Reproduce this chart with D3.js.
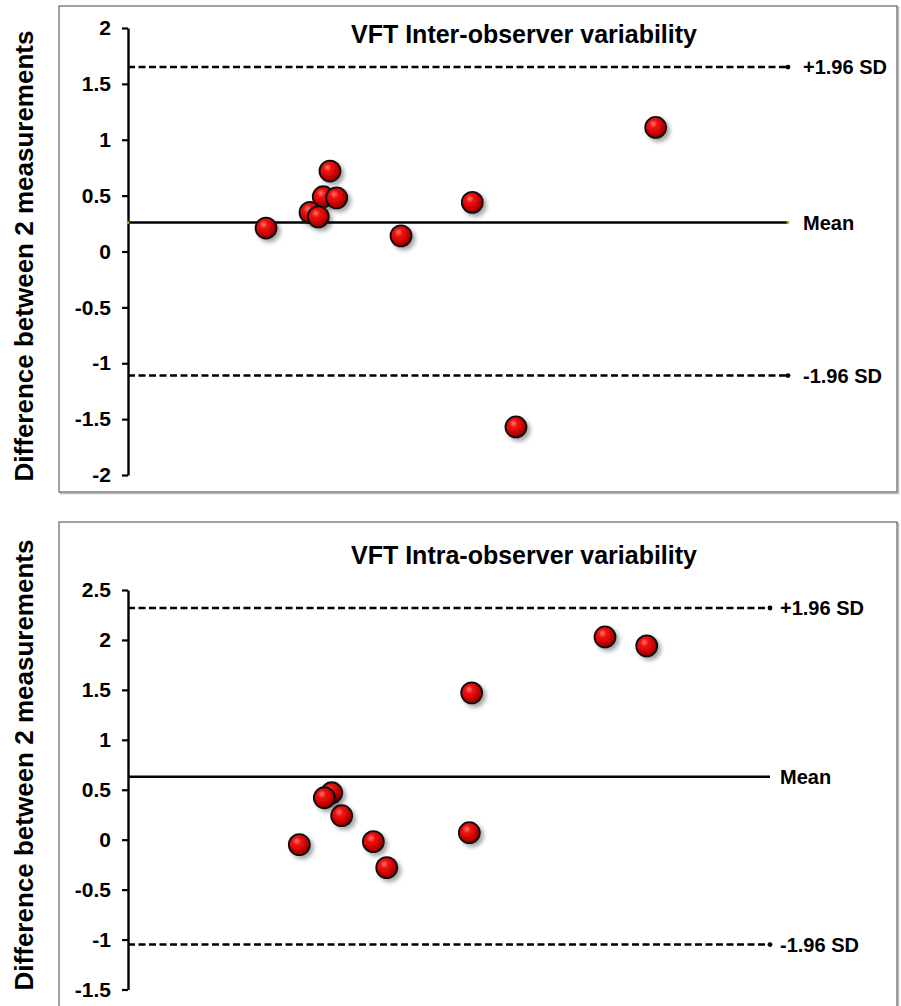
<!DOCTYPE html>
<html>
<head>
<meta charset="utf-8">
<script src="https://cdn.jsdelivr.net/npm/d3@7"></script>
<style>
  body { margin: 0; background: #fff; }
  text { font-family: "Liberation Sans", Arial, sans-serif; font-weight: bold; fill: #000; }
</style>
</head>
<body>
<svg id="chart"></svg>
<script>
// Inter-observer (top panel)
var interX = [1.255, 1.836, 1.775, 1.897, 1.655, 1.730, 2.482, 3.130, 4.797, 3.527];
var interDiff = [0.21, 0.72, 0.49, 0.48, 0.35, 0.31, 0.14, 0.44, 1.11, -1.57];
var interStats = [1.65, 0.26, -1.11]; // +1.96 SD, mean, -1.96 SD
var interTicks = [-2, -1.5, -1, -0.5, 0, 0.5, 1, 1.5, 2];

// Intra-observer (bottom panel)
var intraX = [1.601, 1.904, 1.835, 1.997, 2.293, 2.418, 3.190, 3.212, 4.458, 4.848];
var intraDiff = [-0.05, 0.47, 0.42, 0.24, -0.02, -0.28, 0.07, 1.47, 2.03, 1.94];
var intraStats = [2.32, 0.63, -1.05];
var intraTicks = [-1.5, -1, -0.5, 0, 0.5, 1, 1.5, 2, 2.5];

var statLabels = ["+1.96 SD", "Mean", "-1.96 SD"];
var titles = ["VFT Inter-observer variability", "VFT Intra-observer variability"];
var yLabel = "Difference between 2 measurements";

var dimensions = { width: 901, height: 1006 };

var panels = [
    { title: titles[0], xs: interX, ys: interDiff, stats: interStats, ticks: interTicks,
      box: [59, 6, 838, 486], xRange: [128, 788], yRange: [475, 28], labelX: 803,
      titleY: 43, labelY: 256, meanDots: true },
    { title: titles[1], xs: intraX, ys: intraDiff, stats: intraStats, ticks: intraTicks,
      box: [59, 522, 838, 500], xRange: [128, 770], yRange: [989.5, 590], labelX: 780,
      titleY: 564, labelY: 765, meanDots: false }
];

var svg = d3.select("#chart")
    .attr("width", dimensions.width)
    .attr("height", dimensions.height);

var defs = svg.append("defs");
var grad = defs.append("radialGradient")
    .attr("id", "ball")
    .attr("cx", "40%").attr("cy", "38%").attr("r", "65%")
    .attr("fx", "38%").attr("fy", "32%");
grad.append("stop").attr("offset", "0%").attr("stop-color", "#ff7a6a");
grad.append("stop").attr("offset", "30%").attr("stop-color", "#f01010");
grad.append("stop").attr("offset", "75%").attr("stop-color", "#c00000");
grad.append("stop").attr("offset", "100%").attr("stop-color", "#700000");

var shadow = defs.append("filter").attr("id", "shadow")
    .attr("x", "-50%").attr("y", "-50%").attr("width", "200%").attr("height", "200%");
shadow.append("feDropShadow")
    .attr("dx", 3).attr("dy", 3).attr("stdDeviation", 2)
    .attr("flood-color", "#000").attr("flood-opacity", 0.35);

panels.forEach(function(p) {
    var g = svg.append("g");

    // frame
    g.append("rect")
        .attr("x", p.box[0] + 1.5).attr("y", p.box[1] + 1.5)
        .attr("width", p.box[2]).attr("height", p.box[3])
        .attr("fill", "none").attr("stroke", "#bbb").attr("stroke-width", 1.5);
    g.append("rect")
        .attr("x", p.box[0]).attr("y", p.box[1])
        .attr("width", p.box[2]).attr("height", p.box[3])
        .attr("fill", "#fff").attr("stroke", "#444").attr("stroke-width", 1);

    var xScale = d3.scaleLinear().domain([0, 6]).range(p.xRange);
    var yScale = d3.scaleLinear().domain([p.ticks[0], p.ticks[p.ticks.length - 1]]).range(p.yRange);

    // y axis
    var axis = g.append("g")
        .attr("transform", `translate(${p.xRange[0]},0)`)
        .call(d3.axisLeft(yScale).tickValues(p.ticks).tickFormat(d => d)
            .tickSize(6).tickSizeOuter(0).tickPadding(11));
    axis.select(".domain").attr("stroke", "#000").attr("stroke-width", 2.4);
    axis.selectAll(".tick line").attr("stroke", "#000").attr("stroke-width", 2.2);
    axis.selectAll(".tick text")
        .style("font-size", "21px")
        .style("font-family", "'Liberation Sans', Arial, sans-serif")
        .style("font-weight", "bold")
        .attr("fill", "#000");

    // mean and limits of agreement
    g.selectAll(".stat")
        .data(p.stats)
        .enter()
        .append("line")
        .attr("x1", xScale(0))
        .attr("x2", xScale(6))
        .attr("y1", d => yScale(d))
        .attr("y2", d => yScale(d))
        .attr("stroke", "#000")
        .attr("stroke-width", (d, i) => i === 1 ? 2.5 : 2.5)
        .attr("stroke-dasharray", (d, i) => i === 1 ? null : "7,3.5");

    g.selectAll(".statend")
        .data([p.stats[0], p.stats[2]])
        .enter()
        .append("circle")
        .attr("cx", xScale(6))
        .attr("cy", d => yScale(d))
        .attr("r", 2.4)
        .attr("fill", "#000");

    if (p.meanDots) {
        g.selectAll(".meanend")
            .data([0, 6])
            .enter()
            .append("circle")
            .attr("cx", d => xScale(d))
            .attr("cy", yScale(p.stats[1]))
            .attr("r", 1.5)
            .attr("fill", "#c9a227");
    }

    g.selectAll(".statlabel")
        .data(p.stats)
        .enter()
        .append("text")
        .attr("x", p.labelX)
        .attr("y", d => yScale(d))
        .attr("dy", "0.36em")
        .style("font-size", "20px")
        .text((d, i) => statLabels[i]);

    // title
    g.append("text")
        .attr("x", 524)
        .attr("y", p.titleY)
        .style("text-anchor", "middle")
        .style("font-size", "25px")
        .text(p.title);

    // y label
    g.append("text")
        .attr("transform", `translate(33,${p.labelY}) rotate(-90)`)
        .style("text-anchor", "middle")
        .style("font-size", "26px")
        .text(yLabel);

    // points
    g.selectAll(".pt")
        .data(p.xs)
        .enter()
        .append("circle")
        .attr("cx", d => xScale(d))
        .attr("cy", (d, i) => yScale(p.ys[i]))
        .attr("r", 10.5)
        .attr("fill", "url(#ball)")
        .attr("stroke", "#111")
        .attr("stroke-width", 1.8)
        .attr("filter", "url(#shadow)");
});
</script>
</body>
</html>
